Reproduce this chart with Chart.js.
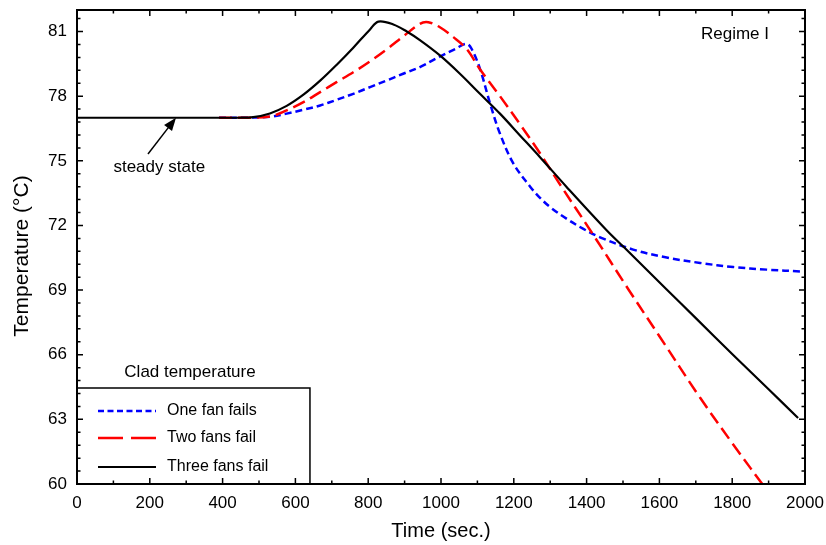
<html>
<head>
    <title>Clad temperature after fan failure</title>
    <style>
        body { margin: 0; background: #fff; }
    </style>
</head>
<body>
    <canvas id="myChart" width="826" height="545"></canvas>

    <script src="https://cdn.jsdelivr.net/npm/chart.js"></script>

<script>
    // values (time in s, temperature in deg C)
    const oneFanTime = [390, 450, 530, 576, 622, 668, 713, 759, 805, 851, 896, 942, 997, 1040, 1070, 1084, 1107, 1135, 1162, 1199, 1245, 1272, 1300, 1346, 1390, 1437, 1528, 1620, 1712, 1803, 1895, 1995];
    const oneFanTemp = [77.0, 77.0, 77.04, 77.19, 77.37, 77.57, 77.83, 78.11, 78.42, 78.73, 79.04, 79.35, 79.84, 80.2, 80.43, 80.2, 79.27, 77.65, 76.26, 74.87, 73.8, 73.28, 72.85, 72.3, 71.85, 71.45, 70.88, 70.51, 70.26, 70.07, 69.95, 69.86];

    const twoFansTime = [390, 450, 530, 576, 622, 668, 713, 759, 805, 851, 896, 942, 965, 997, 1034, 1070, 1107, 1162, 1217, 1272, 1327, 1415, 1515, 1600, 1712, 1800, 1900];
    const twoFansTemp = [77.0, 77.0, 77.06, 77.34, 77.72, 78.19, 78.65, 79.11, 79.62, 80.18, 80.77, 81.36, 81.43, 81.2, 80.74, 80.2, 79.25, 78.0, 76.7, 75.35, 73.9, 71.65, 69.03, 66.86, 64.0, 61.9, 59.6];

    const threeFansTime = [0, 200, 400, 440, 484, 530, 576, 622, 668, 713, 759, 805, 828, 869, 906, 942, 997, 1052, 1107, 1162, 1217, 1272, 1345, 1455, 1505, 1620, 1700, 1802, 1900, 1981];
    const threeFansTemp = [77.0, 77.0, 77.0, 77.0, 77.03, 77.2, 77.55, 78.07, 78.72, 79.45, 80.25, 81.1, 81.46, 81.33, 81.0, 80.6, 79.89, 79.04, 78.11, 77.19, 76.18, 75.17, 73.79, 71.78, 70.95, 69.03, 67.7, 66.0, 64.4, 63.06];

    const seriesLabels = ['One fan fails', 'Two fans fail', 'Three fans fail'];
    const yTicks = [60, 63, 66, 69, 72, 75, 78, 81];

    const FONT = '"Liberation Sans", Arial, sans-serif';

    function toPoints(t, v) {
        return t.map((x, i) => ({ x: x, y: v[i] }));
    }

    // frame with inward ticks, legend box, axis titles and notes
    const decorations = {
        id: 'decorations',
        afterDraw(chart) {
            const ctx = chart.ctx;
            const a = chart.chartArea;
            const xs = chart.scales.x;
            const ys = chart.scales.y;
            ctx.save();

            // minor and major ticks on all four sides
            ctx.strokeStyle = '#000';
            ctx.lineWidth = 1.5;
            ctx.beginPath();
            for (let i = 0; i <= 20; i++) {
                const px = xs.getPixelForValue(i * 100);
                const len = i % 2 === 0 ? 6 : 3.5;
                ctx.moveTo(px, a.bottom); ctx.lineTo(px, a.bottom - len);
                ctx.moveTo(px, a.top); ctx.lineTo(px, a.top + len);
            }
            for (let i = 0; i <= 36; i++) {
                const py = ys.getPixelForValue(60 + i * 0.6);
                const len = i % 5 === 0 ? 6 : 3.5;
                ctx.moveTo(a.left, py); ctx.lineTo(a.left + len, py);
                ctx.moveTo(a.right, py); ctx.lineTo(a.right - len, py);
            }
            ctx.stroke();

            ctx.lineWidth = 2;
            ctx.strokeRect(a.left, a.top, a.right - a.left, a.bottom - a.top);

            // legend box
            const boxRight = xs.getPixelForValue(640);
            const boxTop = ys.getPixelForValue(64.45);
            ctx.lineWidth = 1.5;
            ctx.beginPath();
            ctx.moveTo(a.left, boxTop);
            ctx.lineTo(boxRight, boxTop);
            ctx.lineTo(boxRight, a.bottom);
            ctx.stroke();

            ctx.fillStyle = '#000';
            ctx.textBaseline = 'middle';
            ctx.textAlign = 'center';
            ctx.font = '17px ' + FONT;
            ctx.fillText('Clad temperature', a.left + 113, boxTop - 16);

            const rowY = [a.bottom - 73, a.bottom - 46, a.bottom - 17];
            const legendDash = [[6, 3.5], [25, 8], []];
            chart.data.datasets.forEach((ds, i) => {
                ctx.strokeStyle = ds.borderColor;
                ctx.lineWidth = ds.borderWidth;
                ctx.setLineDash(legendDash[i]);
                ctx.beginPath();
                ctx.moveTo(a.left + 21, rowY[i]);
                ctx.lineTo(a.left + 79, rowY[i]);
                ctx.stroke();
                ctx.setLineDash([]);
                ctx.textAlign = 'left';
                ctx.font = '16px ' + FONT;
                ctx.fillText(ds.label, a.left + 90, rowY[i]);
            });

            // steady state note with arrow
            const hx = xs.getPixelForValue(272), hy = ys.getPixelForValue(77.0);
            const tx = xs.getPixelForValue(195), ty = ys.getPixelForValue(75.32);
            const ang = Math.atan2(hy - ty, hx - tx);
            ctx.strokeStyle = '#000';
            ctx.lineWidth = 1.5;
            ctx.beginPath();
            ctx.moveTo(tx, ty);
            ctx.lineTo(hx - 10 * Math.cos(ang), hy - 10 * Math.sin(ang));
            ctx.stroke();
            ctx.beginPath();
            ctx.moveTo(hx, hy);
            ctx.lineTo(hx - 13 * Math.cos(ang) + 5 * Math.sin(ang), hy - 13 * Math.sin(ang) - 5 * Math.cos(ang));
            ctx.lineTo(hx - 13 * Math.cos(ang) - 5 * Math.sin(ang), hy - 13 * Math.sin(ang) + 5 * Math.cos(ang));
            ctx.closePath();
            ctx.fill();

            ctx.textAlign = 'center';
            ctx.font = '17px ' + FONT;
            ctx.fillText('steady state', xs.getPixelForValue(226), ys.getPixelForValue(74.72));
            ctx.fillText('Regime I', a.right - 70, a.top + 24);

            // axis titles
            ctx.font = '20px ' + FONT;
            ctx.fillText('Time (sec.)', (a.left + a.right) / 2, 531);
            ctx.translate(22, (a.top + a.bottom) / 2 + 9);
            ctx.rotate(-Math.PI / 2);
            ctx.font = '21px ' + FONT;
            ctx.fillText('Temperature (\u00B0C)', 0, 0);
            ctx.restore();
        }
    };

    let myChart;

    function drawChart() {
        var ctx = document.getElementById('myChart').getContext('2d');
        if (myChart) {
            myChart.destroy();
        }
        myChart = new Chart(ctx, {
            type: 'line',
            data: {
                datasets: [{
                    label: seriesLabels[0],
                    data: toPoints(oneFanTime, oneFanTemp),
                    borderColor: '#0000ff',
                    borderWidth: 2.5,
                    borderDash: [7, 4],
                    order: 2
                }, {
                    label: seriesLabels[1],
                    data: toPoints(twoFansTime, twoFansTemp),
                    borderColor: '#ff0000',
                    borderWidth: 2.5,
                    borderDash: [13, 6],
                    order: 1
                }, {
                    label: seriesLabels[2],
                    data: toPoints(threeFansTime, threeFansTemp),
                    borderColor: '#000000',
                    borderWidth: 2.2,
                    order: 0
                }]
            },
            options: {
                responsive: false,
                animation: false,
                layout: { padding: { top: 10, right: 21, left: 0, bottom: 0 } },
                elements: {
                    point: { radius: 0 },
                    line: { tension: 0.35, fill: false }
                },
                plugins: {
                    legend: { display: false },
                    tooltip: { enabled: false }
                },
                scales: {
                    x: {
                        type: 'linear',
                        min: 0,
                        max: 2000,
                        grid: { display: false },
                        border: { display: false },
                        ticks: {
                            stepSize: 200,
                            color: '#000',
                            padding: 1,
                            maxRotation: 0,
                            font: { family: FONT, size: 17 },
                            callback: v => String(v)
                        },
                        afterFit(scale) {
                            scale.height = 61;
                            scale.paddingLeft = 0;
                            scale.paddingRight = 0;
                        }
                    },
                    y: {
                        min: 60,
                        max: 82,
                        grid: { display: false },
                        border: { display: false },
                        ticks: {
                            stepSize: 3,
                            color: '#000',
                            padding: 2,
                            font: { family: FONT, size: 17 }
                        },
                        afterBuildTicks(scale) {
                            scale.ticks = yTicks.map(v => ({ value: v }));
                        },
                        afterFit(scale) {
                            scale.width = 77;
                            scale.paddingTop = 0;
                            scale.paddingBottom = 0;
                        }
                    }
                }
            },
            plugins: [decorations]
        });
    }

    drawChart();
</script>
</body>
</html>
